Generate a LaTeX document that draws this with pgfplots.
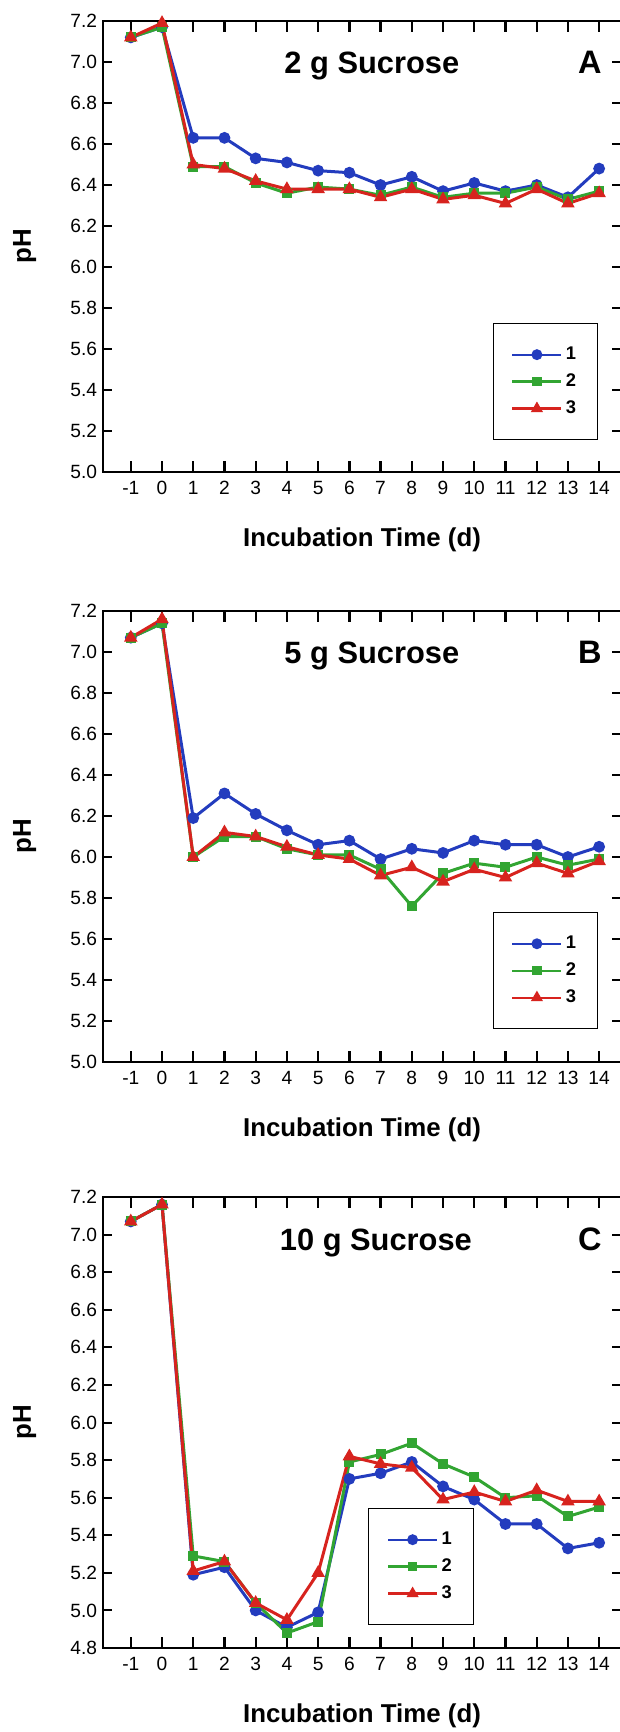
\documentclass[border=0pt]{standalone}
\usepackage{fontspec}
\setmainfont{Liberation Sans}
\usepackage{pgfplots}
\pgfplotsset{compat=1.18}
\definecolor{c1}{RGB}{35,60,190}
\definecolor{c2}{RGB}{50,165,50}
\definecolor{c3}{RGB}{215,35,30}

\pgfplotstableread{
x  a  b  c
-1 7.12 7.12 7.12
0  7.17 7.17 7.19
1  6.63 6.49 6.50
2  6.63 6.49 6.48
3  6.53 6.41 6.42
4  6.51 6.36 6.38
5  6.47 6.39 6.38
6  6.46 6.38 6.38
7  6.40 6.35 6.34
8  6.44 6.39 6.38
9  6.37 6.34 6.33
10 6.41 6.36 6.35
11 6.37 6.36 6.31
12 6.40 6.39 6.38
13 6.34 6.33 6.31
14 6.48 6.37 6.36
}\dataA

\pgfplotstableread{
x  a  b  c
-1 7.07 7.07 7.07
0  7.14 7.14 7.16
1  6.19 6.00 6.00
2  6.31 6.10 6.12
3  6.21 6.10 6.10
4  6.13 6.04 6.05
5  6.06 6.01 6.01
6  6.08 6.01 5.99
7  5.99 5.94 5.91
8  6.04 5.76 5.95
9  6.02 5.92 5.88
10 6.08 5.97 5.94
11 6.06 5.95 5.90
12 6.06 6.00 5.97
13 6.00 5.96 5.92
14 6.05 5.99 5.98
}\dataB

\pgfplotstableread{
x  a  b  c
-1 7.07 7.07 7.07
0  7.16 7.16 7.16
1  5.19 5.29 5.21
2  5.23 5.26 5.26
3  5.00 5.04 5.04
4  4.91 4.88 4.95
5  4.99 4.94 5.20
6  5.70 5.79 5.82
7  5.73 5.83 5.78
8  5.79 5.89 5.76
9  5.66 5.78 5.59
10 5.59 5.71 5.63
11 5.46 5.60 5.58
12 5.46 5.61 5.64
13 5.33 5.50 5.58
14 5.36 5.55 5.58
}\dataC

\pgfplotsset{
  panel/.style={
    scale only axis, width=310.8pt, height=270.6pt,
    xmin=-1.89, xmax=14.70, xtick={-1,0,...,14},
    clip=false,
    axis line style={line width=0.7pt},
    xtick align=inside, ytick align=inside,
    xtick style={black, line width=1.4pt, /pgfplots/major tick length=6.4pt},
    ytick style={black, line width=1.2pt, /pgfplots/major tick length=5.4pt},
    tick label style={font=\fontsize{11.5}{13}\selectfont},
    /pgf/number format/assume math mode=true,
    yticklabel style={/pgf/number format/.cd, fixed, fixed zerofill, precision=1},
    xticklabel style={yshift=-2pt},
    legend style={draw=black, line width=0.6pt, font=\fontsize{11}{13}\selectfont\bfseries,
      inner xsep=11pt, inner ysep=12pt, row sep=3pt, cells={anchor=west}},
    legend image code/.code={\draw[line width=1.3pt, mark repeat=2,mark phase=2] plot coordinates {(0pt,0pt) (14.7pt,0pt) (29.4pt,0pt)};},
  },
  s1/.style={color=c1, line width=1.8pt, mark=*, mark size=2.6pt, mark options={solid}},
  s2/.style={color=c2, line width=1.8pt, mark=square*, mark size=2.1pt, mark options={solid}},
  s3/.style={color=c3, line width=1.8pt, mark=triangle*, mark size=2.9pt, mark options={solid}},
}

\begin{document}
\begin{tikzpicture}
\path[use as bounding box] (0,0) rectangle (372pt,-1039.2pt);

% Panel A
\begin{axis}[panel, at={(61.8pt,-283.2pt)}, anchor=south west,
  ymin=5, ymax=7.2, ytick={5.0,5.2,5.4,5.6,5.8,6.0,6.2,6.4,6.6,6.8,7.0,7.2},
  legend style={at={(0.956,0.071)}, anchor=south east}]
\addplot[s1] table[x=x,y=a] {\dataA};
\addplot[s2] table[x=x,y=b] {\dataA};
\addplot[s3] table[x=x,y=c] {\dataA};
\legend{1\hspace{2pt},2\hspace{2pt},3\hspace{2pt}}
\node[font=\fontsize{18.5}{21}\selectfont\bfseries, anchor=base] at (axis cs:6.72,6.945) {2 g Sucrose};
\node[font=\fontsize{19.5}{22}\selectfont\bfseries, anchor=base] at (axis cs:13.7,6.945) {A};
\node[font=\fontsize{15.5}{18}\selectfont\bfseries] at (axis description cs:0.5,-0.151) {Incubation Time (d)};
\node[font=\fontsize{15.5}{18}\selectfont\bfseries, rotate=90] at (axis description cs:-0.151,0.5) {pH};
\end{axis}

% Panel B
\begin{axis}[panel, at={(61.8pt,-637.2pt)}, anchor=south west,
  ymin=5, ymax=7.2, ytick={5.0,5.2,5.4,5.6,5.8,6.0,6.2,6.4,6.6,6.8,7.0,7.2},
  legend style={at={(0.956,0.073)}, anchor=south east}]
\addplot[s1] table[x=x,y=a] {\dataB};
\addplot[s2] table[x=x,y=b] {\dataB};
\addplot[s3] table[x=x,y=c] {\dataB};
\legend{1\hspace{2pt},2\hspace{2pt},3\hspace{2pt}}
\node[font=\fontsize{18.5}{21}\selectfont\bfseries, anchor=base] at (axis cs:6.72,6.945) {5 g Sucrose};
\node[font=\fontsize{19.5}{22}\selectfont\bfseries, anchor=base] at (axis cs:13.7,6.945) {B};
\node[font=\fontsize{15.5}{18}\selectfont\bfseries] at (axis description cs:0.5,-0.151) {Incubation Time (d)};
\node[font=\fontsize{15.5}{18}\selectfont\bfseries, rotate=90] at (axis description cs:-0.151,0.5) {pH};
\end{axis}

% Panel C
\begin{axis}[panel, at={(61.8pt,-988.8pt)}, anchor=south west,
  ymin=4.8, ymax=7.2, ytick={4.8,5.0,5.2,5.4,5.6,5.8,6.0,6.2,6.4,6.6,6.8,7.0,7.2},
  legend style={at={(0.716,0.051)}, anchor=south east}]
\addplot[s1] table[x=x,y=a] {\dataC};
\addplot[s2] table[x=x,y=b] {\dataC};
\addplot[s3] table[x=x,y=c] {\dataC};
\legend{1\hspace{2pt},2\hspace{2pt},3\hspace{2pt}}
\node[font=\fontsize{18.5}{21}\selectfont\bfseries, anchor=base] at (axis cs:6.85,6.915) {10 g Sucrose};
\node[font=\fontsize{19.5}{22}\selectfont\bfseries, anchor=base] at (axis cs:13.7,6.915) {C};
\node[font=\fontsize{15.5}{18}\selectfont\bfseries] at (axis description cs:0.5,-0.151) {Incubation Time (d)};
\node[font=\fontsize{15.5}{18}\selectfont\bfseries, rotate=90] at (axis description cs:-0.151,0.5) {pH};
\end{axis}
\end{tikzpicture}
\end{document}
